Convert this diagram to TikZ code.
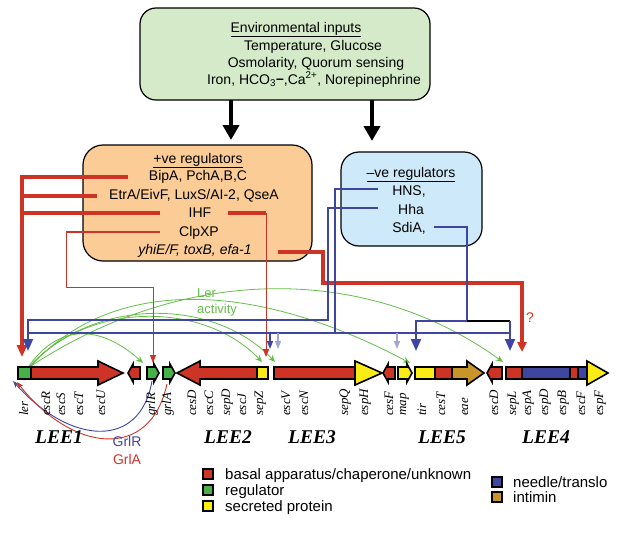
\documentclass[tikz,border=0pt]{standalone}
\usepackage{fontspec}
\setmainfont{Liberation Sans}
\newfontfamily\gfont{Liberation Serif}
\usetikzlibrary{arrows.meta}
\definecolor{rd}{RGB}{206,52,38}
\definecolor{bl}{RGB}{62,70,160}
\definecolor{lbl}{RGB}{160,166,212}
\definecolor{gr}{RGB}{72,176,72}
\definecolor{lgr}{RGB}{100,190,72}
\definecolor{yl}{RGB}{250,236,20}
\definecolor{gd}{RGB}{200,150,40}
\definecolor{gbox}{RGB}{212,234,200}
\definecolor{obox}{RGB}{251,204,150}
\definecolor{bbox}{RGB}{206,234,250}
\tikzset{
  rbox/.style={draw, line width=1.2pt, inner sep=0pt},
  btxt/.style={anchor=base, inner sep=0pt, font=\fontsize{14}{16}\selectfont},
  glabel/.style={font=\gfont\itshape\fontsize{13}{13}\selectfont, rotate=90, anchor=base west, inner sep=0pt},
  lee/.style={font=\gfont\bfseries\itshape\fontsize{19.5}{20}\selectfont, inner sep=0pt},
  gene/.style={draw=black, line width=1.6pt, line join=miter},
  lsq/.style={draw, line width=1.2pt, minimum size=10pt, inner sep=0pt},
  ltxt/.style={anchor=base west, inner sep=0pt, font=\fontsize{15}{17}\selectfont},
  bigarrow/.style={line width=4pt, -{Triangle[width=16pt,length=15pt]}},
  redthick/.style={draw=rd, line width=3.5pt, line join=miter},
  redmid/.style={draw=rd, line width=2.5pt, line join=miter},
  redthin/.style={draw=rd, line width=1pt, line join=miter},
  blueline/.style={draw=bl, line width=2pt, line join=miter},
  bigtip/.style={-{Triangle[width=10pt,length=12pt]}},
  smalltip/.style={-{Triangle[width=6pt,length=8pt]}},
  lercurve/.style={draw=lgr, line width=0.8pt, -{Stealth[width=6pt,length=7pt]}},
  grlcurve/.style={line width=0.9pt, -{Stealth[width=5pt,length=7pt]}}
}
\begin{document}
\begin{tikzpicture}[x=1pt,y=-1pt]
\useasboundingbox (0,0) rectangle (635,538);

% ---------- boxes ----------
\node[rbox, fill=gbox, rounded corners=16pt, minimum width=290pt, minimum height=92pt] (env) at (285,54) {};
\node[rbox, fill=obox, rounded corners=20pt, minimum width=229pt, minimum height=116pt] (pos) at (197.5,203) {};
\node[rbox, fill=bbox, rounded corners=18pt, minimum width=141pt, minimum height=94pt] (neg) at (411.5,199) {};

\node[btxt] (e0) at (296,32) {\underline{Environmental inputs}};
\node[btxt] (e1) at (313,50) {Temperature, Glucose};
\node[btxt] (e2) at (316,67) {Osmolarity, Quorum sensing};
\node[btxt] (e3) at (314,84) {Iron, HCO\textsubscript{3}{\bfseries\raisebox{1pt}{–}},Ca\textsuperscript{2+}, Norepinephrine};

\node[btxt] (p0) at (198,163) {\underline{+ve regulators}};
\node[btxt] (p1) at (198,180) {BipA, PchA,B,C};
\node[btxt] (p2) at (194,199) {EtrA/EivF, LuxS/AI-2, QseA};
\node[btxt] (p3) at (200,217) {IHF};
\node[btxt] (p4) at (199,236) {ClpXP};
\node[btxt] (p5) at (195,254) {\itshape yhiE/F, toxB, efa-1};

\node[btxt] (n0) at (411,177) {\underline{–ve regulators}};
\node[btxt] (n1) at (409,195) {HNS,};
\node[btxt] (n2) at (411,214) {Hha};
\node[btxt] (n3) at (409,232) {SdiA,};

% ---------- input arrows ----------
\coordinate (a1s) at (231,100); \coordinate (a1e) at (231,140);
\coordinate (a2s) at (372,100); \coordinate (a2e) at (372,141);
\draw[bigarrow] (a1s) -- (a1e);
\draw[bigarrow] (a2s) -- (a2e);

% ---------- Ler activity curves ----------
\coordinate (lo1) at (29,366);
\coordinate (lo2) at (30,366);
\coordinate (lo3) at (31,366);
\coordinate (tgrlR) at (143,363);
\coordinate (tsepZ) at (262,362);
\coordinate (tescV) at (275,362);
\coordinate (tmap) at (410,363);
\coordinate (tsepL) at (503,362);
\draw[lercurve] (lo1) .. controls (60,322) and (102,326) .. (tgrlR);
\draw[lercurve] (lo2) .. controls (90,300) and (205,302) .. (tsepZ);
\draw[lercurve] (lo2) .. controls (95,296) and (215,298) .. (tescV);
\draw[lercurve] (lo3) .. controls (110,278) and (250,278) .. (tmap);
\draw[lercurve] (lo3) .. controls (190,262) and (370,266) .. (tsepL);
\node[anchor=west, inner sep=0pt, text=lgr, font=\fontsize{13}{15}\selectfont] (ler1) at (197,293) {Ler};
\node[anchor=west, inner sep=0pt, text=lgr, font=\fontsize{13}{15}\selectfont] (ler2) at (197,310) {activity};

% ---------- red (positive) connectors ----------
\coordinate (rB) at (128,177); \coordinate (rBc) at (22,177); \coordinate (rLer) at (22,357);
\coordinate (rE) at (97,196); \coordinate (rEc) at (22,196);
\coordinate (rI) at (160,213); \coordinate (rIc) at (22,213);
\draw[redthick, bigtip] (rB) -- (rBc) -- (rLer);
\draw[redthick] (rE) -- (rEc);
\draw[redthick] (rI) -- (rIc);
\coordinate (rH) at (228,213); \coordinate (rHc) at (266,213); \coordinate (rHe) at (266,357);
\draw[redthick] (rH) -- (rHc);
\draw[redthin, smalltip] (rHc) -- (rHe);
\coordinate (rC) at (160,232); \coordinate (rCc) at (66,232); \coordinate (rCd) at (66,287);
\coordinate (rCe) at (153,287); \coordinate (rCt) at (153,363);
\draw[redmid] (rC) -- (rCc);
\draw[redthin, smalltip] (rCc) -- (rCd) -- (rCe) -- (rCt);
\coordinate (rY) at (278,252); \coordinate (rY1) at (323,252); \coordinate (rY2) at (323,283);
\coordinate (rY3) at (522,283); \coordinate (rYe) at (522,352);
\draw[redthick, -{Triangle[width=9pt,length=10pt]}] (rY) -- (rY1) -- (rY2) -- (rY3) -- (rYe);
\node[text=rd, font=\fontsize{14}{16}\selectfont, inner sep=0pt] (q) at (530,318) {?};

% ---------- blue (negative) connectors ----------
\coordinate (bHa) at (378,208); \coordinate (bHa1) at (328,208); \coordinate (bHa2) at (328,320);
\coordinate (bHa3) at (28,320); \coordinate (bLer) at (28,351);
\draw[blueline, bigtip] (bHa) -- (bHa1) -- (bHa2) -- (bHa3) -- (bLer);
\coordinate (bHn) at (378,189); \coordinate (bHn1) at (335,189); \coordinate (bHn2) at (335,333);
\coordinate (bL) at (28,333); \coordinate (bR) at (510,333);
\draw[blueline] (bHn) -- (bHn1) -- (bHn2);
\draw[blueline] (bL) -- (bR);
\coordinate (bS) at (434,227); \coordinate (bS1) at (467,227); \coordinate (bS2) at (467,321);
\coordinate (bS3) at (416,321); \coordinate (bSe) at (416,351);
\draw[blueline, bigtip] (bS) -- (bS1) -- (bS2) -- (bS3) -- (bSe);
\coordinate (kR) at (510,321); \coordinate (bRe) at (510,351);
\draw[black, line width=2pt] (bS2) -- (kR);
\draw[blueline, bigtip] (kR) -- (bRe);
\coordinate (s1) at (270,333); \coordinate (s1e) at (270,349);
\coordinate (s2) at (278,333); \coordinate (s2e) at (278,349);
\coordinate (s3) at (397,333); \coordinate (s3e) at (397,349);
\draw[draw=bl, line width=1.5pt, smalltip] (s1) -- (s1e);
\draw[draw=lbl, line width=1.5pt, smalltip] (s2) -- (s2e);
\draw[draw=lbl, line width=1.5pt, smalltip] (s3) -- (s3e);

% ---------- genes ----------
% LEE1
\draw[gene, fill=rd] (31,367) -- (98,367) -- (98,361) -- (123,373) -- (98,385) -- (98,379) -- (31,379) -- cycle;
\node[gene, fill=gr, minimum width=13pt, minimum height=12pt, inner sep=0pt] (lerbox) at (24.5,373) {};
\draw[gene, fill=rd] (140,367) -- (133,367) -- (133,364) -- (128,373) -- (133,382) -- (133,379) -- (140,379) -- cycle;
\draw[gene, fill=gr] (147,367) -- (154,367) -- (154,364) -- (159,373) -- (154,382) -- (154,379) -- (147,379) -- cycle;
\draw[gene, fill=gr] (163,367) -- (170,367) -- (170,364) -- (175,373) -- (170,382) -- (170,379) -- (163,379) -- cycle;
% LEE2
\draw[gene, fill=rd] (257,367) -- (200,367) -- (200,361) -- (177,373) -- (200,385) -- (200,379) -- (257,379) -- cycle;
\draw[gene, fill=yl] (257,367) rectangle (268,379);
% LEE3
\draw[gene, fill=rd] (274,367) rectangle (355,379);
\draw[gene, fill=yl] (355,361) -- (382,373) -- (355,385) -- cycle;
\draw[gene, fill=rd] (395,367) -- (388,367) -- (388,364) -- (383,373) -- (388,382) -- (388,379) -- (395,379) -- cycle;
\draw[gene, fill=yl] (398,367) -- (407,367) -- (407,364) -- (412,373) -- (407,382) -- (407,379) -- (398,379) -- cycle;
% LEE5
\draw[gene, fill=yl] (415,367) rectangle (435,379);
\draw[gene, fill=rd] (435,367) rectangle (452,379);
\draw[gene, fill=gd] (452,367) -- (467,367) -- (467,361) -- (484,373) -- (467,385) -- (467,379) -- (452,379) -- cycle;
\draw[gene, fill=rd] (502,367) -- (492,367) -- (492,364) -- (487,373) -- (492,382) -- (492,379) -- (502,379) -- cycle;
% LEE4
\draw[gene, fill=rd] (506,367) rectangle (522,379);
\draw[gene, fill=bl] (522,367) rectangle (570,379);
\draw[gene, fill=rd] (570,367) rectangle (578,379);
\draw[gene, fill=bl] (578,367) rectangle (587,379);
\draw[gene, fill=yl] (587,361) -- (608,373) -- (587,385) -- cycle;

% ---------- GrlR / GrlA feedback ----------
\coordinate (grR) at (152,381); \coordinate (lerR) at (13,381);
\coordinate (grA) at (167,384); \coordinate (lerA) at (17,382);
\draw[grlcurve, draw=bl] (grR) .. controls (140,450) and (70,445) .. (lerR);
\draw[grlcurve, draw=rd] (grA) .. controls (150,462) and (72,452) .. (lerA);
\node[text=bl, font=\fontsize{14}{16}\selectfont, inner sep=0pt] (tGrlR) at (127,441) {GrlR};
\node[text=rd, font=\fontsize{14}{16}\selectfont, inner sep=0pt] (tGrlA) at (127,459) {GrlA};

% ---------- gene labels ----------
\foreach \x/\t in {25/ler, 47/escR, 62/escS, 80/escT, 102/escU, 152/grlR, 168/grlA,
  193/cesD, 210/escC, 227/sepD, 243/escJ, 260/sepZ, 287/escV, 305/escN, 345/sepQ, 365/espH,
  390/cesF, 403/map, 423/tir, 442/cesT, 465/eae, 495/escD, 513/sepL, 528/espA, 545/espD,
  563/espB, 582/escF, 600/espF}
  \node[glabel] (g\t) at (\x+3,416) {\t};

\node[lee] (L1) at (59,437) {LEE1};
\node[lee] (L2) at (228,437) {LEE2};
\node[lee] (L3) at (312,437) {LEE3};
\node[lee] (L5) at (442,437) {LEE5};
\node[lee] (L4) at (546,437) {LEE4};

% ---------- legend ----------
\node[lsq, fill=rd] (k1) at (208,474) {};
\node[lsq, fill=gr] (k2) at (208,490) {};
\node[lsq, fill=yl] (k3) at (208,506) {};
\node[lsq, fill=bl] (k4) at (497,482) {};
\node[lsq, fill=gd] (k5) at (497,497) {};
\node[ltxt] (kt1) at (225,479) {basal apparatus/chaperone/unknown};
\node[ltxt] (kt2) at (225,495) {regulator};
\node[ltxt] (kt3) at (225,511) {secreted protein};
\node[ltxt] (kt4) at (513,487) {needle/translo};
\node[ltxt] (kt5) at (513,502) {intimin};
\end{tikzpicture}
\end{document}
